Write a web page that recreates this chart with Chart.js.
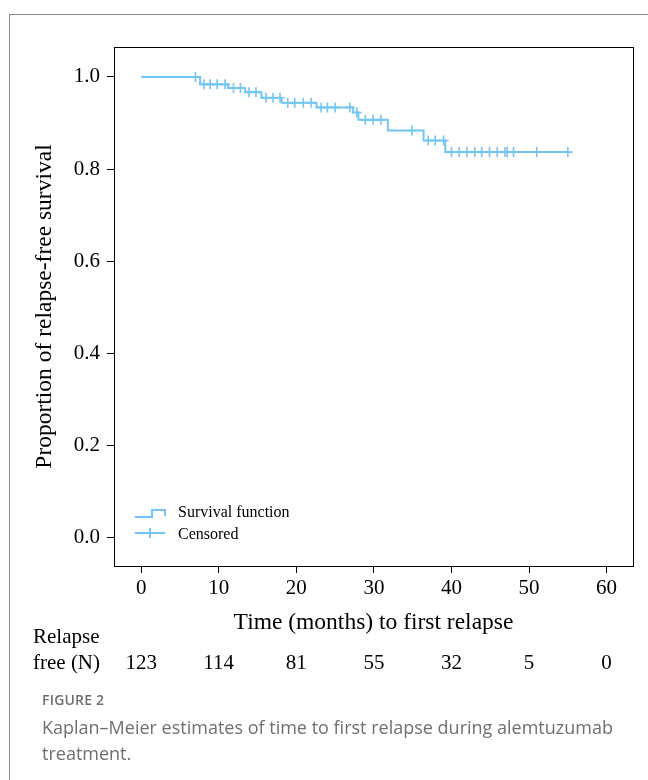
<!DOCTYPE html>
<html><head><meta charset="utf-8">
<script src="https://cdn.jsdelivr.net/npm/chart.js@4.4.1/dist/chart.umd.min.js"></script>
<style>
html,body{margin:0;padding:0;background:#fff;}
body{width:648px;height:780px;position:relative;overflow:hidden;}
#frame{position:absolute;left:9px;top:14px;width:700px;height:800px;border-left:1px solid #8a8a8a;border-top:1px solid #8a8a8a;}
#wrap{position:absolute;left:0;top:0;width:648px;height:700px;}
#cap{position:absolute;left:42px;top:690px;width:590px;font-family:'Open Sans',sans-serif;color:#6f6f6f;}
.fig{font-size:14px;line-height:19px;font-weight:600;letter-spacing:0.2px;margin-bottom:5px;}
.txt{font-size:18px;line-height:26px;}
</style></head><body>
<div id="frame"></div>
<div id="wrap"><canvas id="c" width="648" height="700"></canvas></div>
<div id="cap"><div class="fig">FIGURE 2</div><div class="txt">Kaplan–Meier estimates of time to first relapse during alemtuzumab treatment.</div></div>
<script>
// Kaplan–Meier step function (time in months, survival proportion)
const eventTimes = [0, 7.6, 11.2, 13.4, 15.5, 18.1, 22.6, 27.3, 28.0, 31.8, 36.4, 39.2, 55.2];
const survival   = [1.0, 0.984, 0.976, 0.967, 0.955, 0.944, 0.934, 0.923, 0.907, 0.884, 0.862, 0.837, 0.837];
// censoring times (months)
const censorTimes = [7.0, 8.1, 8.9, 9.8, 10.8, 11.9, 12.8, 13.9, 14.8, 16.1, 17.0, 17.9, 18.9, 19.8, 20.9, 21.9,
  23.2, 24.0, 25.0, 26.9, 27.8, 28.9, 29.9, 30.9, 34.9, 37.0, 37.9, 39.0, 40.0, 41.0, 42.0, 43.0, 43.9, 44.9,
  45.9, 46.9, 47.2, 48.0, 51.0, 55.0];
// axis ticks
const xTicks = [0, 10, 20, 30, 40, 50, 60];
const yTicks = [0.0, 0.2, 0.4, 0.6, 0.8, 1.0];
// number at risk table
const riskTimes = [0, 10, 20, 30, 40, 50, 60];
const riskN = [123, 114, 81, 55, 32, 5, 0];
const riskLabel = ['Relapse', 'free (N)'];

const COLOR = '#73c6f1';
const SERIF = "'Liberation Serif','Times New Roman',serif";

function survAt(t) {
  let s = survival[0];
  for (let i = 0; i < eventTimes.length; i++) { if (eventTimes[i] <= t) s = survival[i]; }
  return s;
}

const extras = {
  id: 'extras',
  afterDraw(chart) {
    const {ctx, chartArea: a, scales: {x}} = chart;
    ctx.save();
    // box
    ctx.strokeStyle = '#000'; ctx.lineWidth = 1;
    ctx.strokeRect(Math.round(a.left) + 0.5, Math.round(a.top) + 0.5, Math.round(a.right - a.left), Math.round(a.bottom - a.top));
    // legend
    const ds = chart.data.datasets;
    ctx.strokeStyle = COLOR; ctx.lineWidth = 2;
    const lx = a.left + 21, ly1 = a.bottom - 53, ly2 = a.bottom - 33;
    ctx.beginPath();
    ctx.moveTo(lx, ly1 + 4); ctx.lineTo(lx + 17, ly1 + 4); ctx.lineTo(lx + 17, ly1 - 3);
    ctx.lineTo(lx + 30, ly1 - 3); ctx.lineTo(lx + 30, ly1 + 3);
    ctx.stroke();
    ctx.beginPath();
    ctx.moveTo(lx, ly2); ctx.lineTo(lx + 30, ly2);
    ctx.moveTo(lx + 15, ly2 - 5); ctx.lineTo(lx + 15, ly2 + 5);
    ctx.stroke();
    ctx.fillStyle = '#000';
    ctx.font = '16px ' + SERIF;
    ctx.textBaseline = 'middle'; ctx.textAlign = 'left';
    ctx.fillText(ds[0].label, lx + 43, ly1);
    ctx.fillText(ds[1].label, lx + 43, ly2 + 2);
    // risk table
    ctx.font = '21px ' + SERIF;
    ctx.fillText(riskLabel[0], 33, 637);
    ctx.fillText(riskLabel[1], 33, 663);
    ctx.textAlign = 'center';
    riskTimes.forEach((t, i) => ctx.fillText(String(riskN[i]), x.getPixelForValue(t), 663));
    ctx.restore();
  }
};

new Chart(document.getElementById('c'), {
  type: 'line',
  data: {
    datasets: [
      {
        label: 'Survival function',
        data: eventTimes.map((t, i) => ({x: t, y: survival[i]})),
        stepped: 'before',
        borderColor: COLOR, borderWidth: 2, pointRadius: 0, fill: false
      },
      {
        label: 'Censored',
        data: censorTimes.map(t => ({x: t, y: survAt(t)})),
        showLine: false,
        pointStyle: 'cross', pointRadius: 5, pointBorderWidth: 1.6,
        borderColor: COLOR, backgroundColor: COLOR
      }
    ]
  },
  options: {
    responsive: false, animation: false,
    layout: {padding: {left: 0, top: 47, right: 15, bottom: 54}},
    plugins: {legend: {display: false}, tooltip: {enabled: false}},
    scales: {
      x: {
        type: 'linear', min: -3.5, max: 63.4,
        afterBuildTicks: s => { s.ticks = xTicks.map(v => ({value: v})); },
        afterFit: s => { s.height = 80; },
        grid: {drawOnChartArea: false, drawTicks: true, tickLength: 7, color: '#000'},
        border: {display: true, color: '#000'},
        ticks: {color: '#000', font: {family: SERIF, size: 21}, padding: 3, maxRotation: 0, callback: v => String(v)},
        title: {display: true, text: 'Time (months) to first relapse', color: '#000', font: {family: SERIF, size: 23.5}, padding: {top: 0, bottom: 9}}
      },
      y: {
        type: 'linear', min: -0.061, max: 1.065,
        afterBuildTicks: s => { s.ticks = yTicks.map(v => ({value: v})); },
        afterFit: s => { s.width = 114; },
        grid: {drawOnChartArea: false, drawTicks: true, tickLength: 7, color: '#000'},
        border: {display: true, color: '#000'},
        ticks: {color: '#000', font: {family: SERIF, size: 21}, padding: 7, callback: v => v.toFixed(1)},
        title: {display: true, text: 'Proportion of relapse-free survival', color: '#000', font: {family: SERIF, size: 23.5}, padding: {top: 31, bottom: 0}}
      }
    }
  },
  plugins: [extras]
});
</script>
</body></html>
